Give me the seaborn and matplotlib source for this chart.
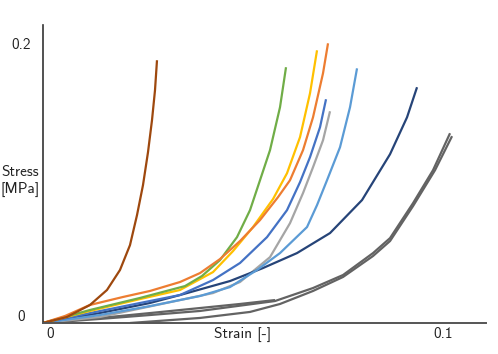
import pandas as pd
import seaborn as sns
import matplotlib.pyplot as plt
from matplotlib.transforms import ScaledTranslation

# stress-strain curves (strain [-], stress [MPa])
brown_x = [0, .006, .01175, .016, .01925, .02175, .0235, .025, .02625, .02725, .028, .0285]
brown_y = [0, .0043, .0129, .0236, .0379, .0557, .0771, .0986, .1221, .145, .1664, .1879]

orange_x = [0, .0055, .01175, .02, .02675, .03425, .03925, .04425, .04925, .05425, .05875,
            .06175, .065, .0675, .07, .07125]
orange_y = [0, .005, .0129, .0186, .0229, .0293, .0357, .0457, .0586, .0736, .09,
            .1021, .1236, .1471, .1786, .2]

green_x = [0, .01175, .02425, .0355, .03975, .04425, .0485, .05175, .05425, .05675, .05925, .06075]
green_y = [0, .0093, .0179, .0264, .0336, .045, .0614, .0807, .1021, .1236, .1543, .1829]

yellow_x = [0, .01175, .02425, .03425, .0425, .0475, .0525, .0575, .061, .06425, .06675, .0685]
yellow_y = [0, .0086, .0171, .0236, .0364, .0514, .0686, .0886, .1071, .1329, .1643, .195]

blue_x = [0, .01175, .02425, .03425, .0425, .04925, .056, .061, .06425, .06675, .06925, .07075]
blue_y = [0, .0071, .0143, .02, .0307, .0429, .0614, .0807, .1007, .1186, .14, .16]

lgray_x = [0, .01425, .0285, .0425, .04925, .05675, .06175, .065, .0675, .07, .07175]
lgray_y = [0, .0043, .0129, .0214, .0293, .0471, .0714, .0929, .1114, .1307, .1514]

lblue_x = [0, .01425, .02675, .03925, .04675, .0535, .05925, .066, .0685, .071, .07425, .07675, .0785]
lblue_y = [0, .0057, .0121, .0193, .0257, .0379, .05, .0686, .0843, .1021, .1257, .1543, .1821]

navy_x = [0, .01425, .02675, .03425, .04675, .055, .0635, .07175, .07975, .08675, .091, .0935]
navy_y = [0, .0071, .0143, .02, .03, .0393, .05, .0643, .0879, .1207, .1471, .1686]

dgray1_x = [0, .01425, .02675, .03925, .04925, .058]
dgray1_y = [0, .0036, .0071, .0107, .0136, .0164]

dgray2_x = [0, .01425, .02675, .03925, .058, .0675, .075, .0825, .08675, .0925, .0975, .10175]
dgray2_y = [0, .0029, .0057, .0086, .0157, .025, .0343, .05, .0607, .0857, .1093, .1357]

dgray3_x = [.02175, .03925, .05175, .05925, .0675, .075, .0825, .08675, .0925, .098, .10225]
dgray3_y = [0, .0036, .0079, .0136, .0229, .0329, .0479, .0586, .0836, .1093, .1336]

curves = {
    'dgray1': (dgray1_x, dgray1_y),
    'dgray2': (dgray2_x, dgray2_y),
    'dgray3': (dgray3_x, dgray3_y),
    'lgray': (lgray_x, lgray_y),
    'navy': (navy_x, navy_y),
    'lblue': (lblue_x, lblue_y),
    'blue': (blue_x, blue_y),
    'yellow': (yellow_x, yellow_y),
    'green': (green_x, green_y),
    'orange': (orange_x, orange_y),
    'brown': (brown_x, brown_y),
}
colors = {
    'dgray1': '#636363', 'dgray2': '#636363', 'dgray3': '#636363',
    'lgray': '#A5A5A5', 'navy': '#264478', 'lblue': '#5B9BD5',
    'blue': '#4472C4', 'yellow': '#FFC000', 'green': '#70AD47',
    'orange': '#ED7D31', 'brown': '#9E480E',
}

rows = []
for name, (xs, ys) in curves.items():
    for x, y in zip(xs, ys):
        rows.append({'curve': name, 'strain': x, 'stress': y})
df = pd.DataFrame(rows)

sns.set_style('white')
plt.rcParams['font.family'] = ['cmss10', 'DejaVu Sans']
plt.rcParams['axes.unicode_minus'] = False

fig = plt.figure(figsize=(4.98, 3.54), dpi=100)
ax = fig.add_axes([0.0863, 0.0876, 0.8897, 0.8414])
sns.lineplot(data=df, x='strain', y='stress', hue='curve', palette=colors,
             estimator=None, sort=False, legend=False, linewidth=1.6, ax=ax)
for ln in ax.get_lines():
    ln.set_solid_joinstyle('round')
    ln.set_solid_capstyle('butt')

ax.set_xlim(0, 0.11075)
ax.set_ylim(0, 0.213)
ax.set_xticks([0, 0.1])
ax.set_xticklabels(['0', '0.1'])
ax.set_yticks([0, 0.2])
ax.set_yticklabels(['0', '0.2'])
ax.tick_params(length=0, labelsize=11, colors='#222222')
ax.tick_params(axis='y', pad=16)
ax.tick_params(axis='x', pad=3)
for lab in ax.get_yticklabels():
    lab.set_horizontalalignment('center')
# nudge the zero labels like in the original
xl0 = ax.get_xticklabels()[0]
xl0.set_transform(xl0.get_transform() + ScaledTranslation(0.07, 0, fig.dpi_scale_trans))
yl0 = ax.get_yticklabels()[0]
yl0.set_transform(yl0.get_transform() + ScaledTranslation(0, 0.07, fig.dpi_scale_trans))

sns.despine(ax=ax)
ax.spines['left'].set_color('#333333')
ax.spines['bottom'].set_color('#555555')
ax.spines['left'].set_linewidth(1.2)
ax.spines['bottom'].set_linewidth(1.4)

ax.set_xlabel('Strain [-]', fontsize=11, color='#222222')
ax.xaxis.set_label_coords(0.45, -0.012)
ax.set_ylabel('')
fig.text(0.002, 0.489, 'Stress\n[MPa]', ha='left', va='center', fontsize=11,
         color='#222222', linespacing=1.25)

fig.savefig('out.png', dpi=100)
